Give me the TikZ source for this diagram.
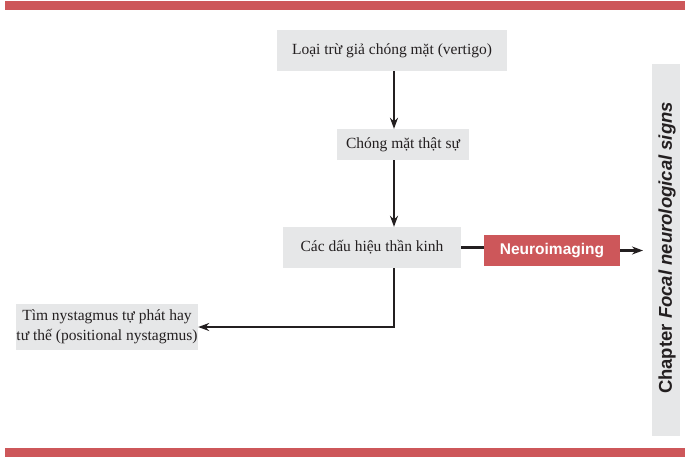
\documentclass[tikz,border=0pt]{standalone}
\usepackage{fontspec}
\setmainfont{Liberation Serif}
\newfontfamily\headsans{Liberation Sans}
\usetikzlibrary{arrows.meta}
\definecolor{brickred}{RGB}{205,87,90}
\definecolor{panelgray}{RGB}{230,231,232}
\definecolor{inkdark}{RGB}{35,31,32}
\begin{document}
\begin{tikzpicture}[x=1pt,y=-1pt,
  stepbox/.style={fill=panelgray, draw=none, inner sep=0pt, align=center,
    text=inkdark, font=\fontsize{15.5}{20}\selectfont},
  redbox/.style={fill=brickred, draw=none, inner sep=0pt, text=white,
    font=\headsans\bfseries\fontsize{15.5}{18}\selectfont},
  flow/.style={draw=inkdark, line width=2.4pt, -{Stealth[length=11pt,width=8pt]}},
  link/.style={draw=inkdark, line width=2.4pt}]
  \useasboundingbox (0,0) rectangle (685,459);
  % top and bottom rules
  \fill[brickred] (5,1) rectangle (685,10);
  \fill[brickred] (5,448) rectangle (685,457);
  % side tab
  \fill[panelgray] (652,64) rectangle (680,436);
  \node[rotate=90, text=inkdark, font=\headsans\bfseries\fontsize{18.5}{20}\selectfont]
    (tab) at (667,248) {Chapter \itshape Focal neurological signs};
  % flow boxes
  \node[stepbox, minimum width=230pt, minimum height=41pt] (exclude) at (392,50.5)
    {Loại trừ giả chóng mặt (vertigo)};
  \node[stepbox, minimum width=132pt, minimum height=31pt] (true) at (403,144.5)
    {Chóng mặt thật sự};
  \node[stepbox, minimum width=178pt, minimum height=41pt] (signs) at (372,247.5)
    {Các dấu hiệu thần kinh};
  \node[redbox, minimum width=136pt, minimum height=31pt] (neuro) at (552,250.5)
    {Neuroimaging};
  \node[stepbox, minimum width=182pt, minimum height=46pt] (nyst) at (107,327)
    {Tìm nystagmus tự phát hay\\tư thế (positional nystagmus)};
  \coordinate (spine) at (394,0);
  \coordinate (neuroend) at (643,250.5);
  % connectors
  \draw[flow] (exclude.south -| spine) -- (true.north -| spine);
  \draw[flow] (true.south -| spine) -- (signs.north -| spine);
  \draw[link] (signs.east) -- (neuro.west |- signs.east);
  \draw[flow] (neuro.east) -- (neuroend);
  \draw[flow] (signs.south -| spine) |- (nyst.east);
\end{tikzpicture}
\end{document}
